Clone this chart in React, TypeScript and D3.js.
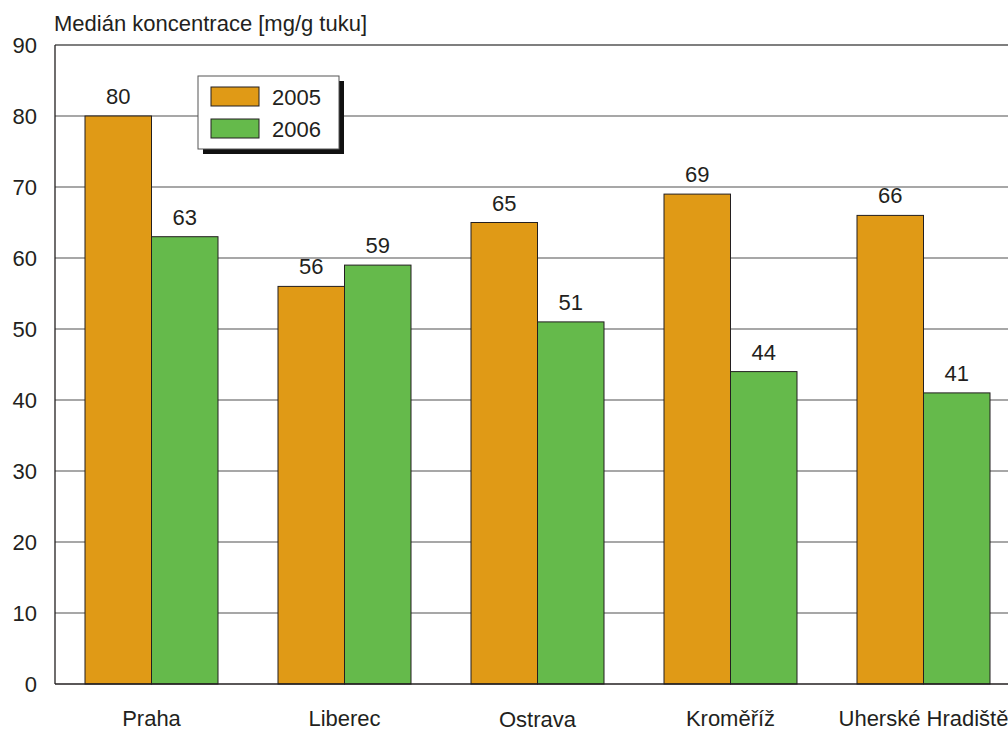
import React from "react";
import * as d3 from "d3";

const categories = ["Praha", "Liberec", "Ostrava", "Kroměříž", "Uherské Hradiště"];
const series2005 = [80, 56, 65, 69, 66];
const series2006 = [63, 59, 51, 44, 41];
const yTicks = [0, 10, 20, 30, 40, 50, 60, 70, 80, 90];
const seriesNames = ["2005", "2006"];
const colors = ["#E09A16", "#65BA4B"];

export default function App() {
  const W = 1008, H = 731;
  const left = 55, top = 45, bottom = 684;
  const step = 193;
  const right = left + step * categories.length;
  const x = d3.scaleBand<string>().domain(categories).range([left, right]).paddingInner(60 / 193).paddingOuter(30 / 193);
  const y = d3.scaleLinear().domain([0, 90]).range([bottom, top]);
  const inner = d3.scaleBand<string>().domain(seriesNames).range([0, x.bandwidth()]);
  const data = [series2005, series2006];
  const font = "'Liberation Sans', Arial, sans-serif";
  const fs = 22;
  return (
    <svg width={W} height={H} style={{ position: "absolute", left: 0, top: 0, background: "#fff" }} fontFamily={font}>
      <text x={54} y={31} fontSize={22} fill="#231f20">Medián koncentrace [mg/g tuku]</text>
      {yTicks.map((t) => (
        <g key={t}>
          {t > 0 && <line x1={left} x2={right} y1={y(t)} y2={y(t)} stroke={t === 90 ? "#555" : "#8a8a8a"} strokeWidth={1.3} />}
          <text x={37} y={y(t) + 8} fontSize={fs} textAnchor="end" fill="#231f20">{t}</text>
        </g>
      ))}
      {categories.map((c, i) => (
        <g key={c}>
          {data.map((s, j) => {
            const bx = (x(c) as number) + (inner(seriesNames[j]) as number);
            const bw = inner.bandwidth();
            return (
              <g key={j}>
                <rect x={bx} y={y(s[i])} width={bw} height={bottom - y(s[i])} fill={colors[j]} stroke="#231f20" strokeWidth={1} />
                <text x={bx + bw / 2} y={y(s[i]) - 12} fontSize={fs} textAnchor="middle" fill="#231f20">{s[i]}</text>
              </g>
            );
          })}
          <text x={(x(c) as number) + x.bandwidth() / 2} y={[726, 726, 727, 726, 726][i]} fontSize={fs} textAnchor="middle" fill="#231f20">{c}</text>
        </g>
      ))}
      <line x1={left} x2={left} y1={top} y2={bottom} stroke="#231f20" strokeWidth={1.3} />
      <line x1={left} x2={right} y1={bottom} y2={bottom} stroke="#231f20" strokeWidth={1.5} />
      <g>
        <rect x={203} y={81} width={141} height={73} fill="#111" />
        <rect x={198} y={76} width={141} height={73} fill="#fff" stroke="#555" strokeWidth={1} />
        {seriesNames.map((n, j) => (
          <g key={n}>
            <rect x={211} y={87 + j * 32} width={48} height={19} fill={colors[j]} stroke="#231f20" strokeWidth={1} />
            <text x={272} y={105 + j * 32} fontSize={fs} fill="#231f20">{n}</text>
          </g>
        ))}
      </g>
    </svg>
  );
}
